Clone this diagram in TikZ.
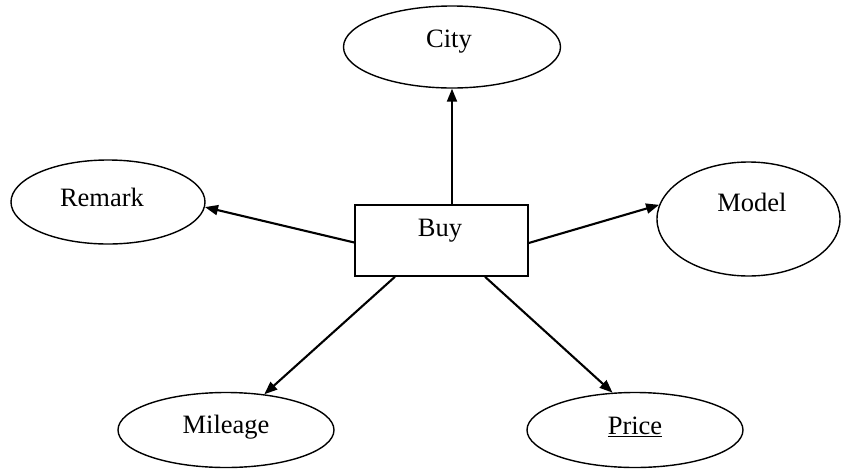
\documentclass[tikz,border=0pt]{standalone}
\usepackage{fontspec}
\setmainfont{Liberation Serif}
\usetikzlibrary{shapes.geometric,arrows.meta}
\begin{document}
\begin{tikzpicture}[x=1pt,y=-1pt,
  attr/.style={ellipse,draw,line width=1.4pt,inner sep=0pt},
  entity/.style={rectangle,draw,line width=1.5pt,inner sep=0pt,minimum width=173pt,minimum height=71pt},
  lbl/.style={font=\fontsize{26.5}{31}\selectfont,inner sep=0pt},
  rel/.style={line width=2.1pt,-{Triangle[length=13pt,width=10pt]}}]
\useasboundingbox (0,0) rectangle (841,469);

% entity
\node[entity] (buy) at (441.5,240.5) {};
\node[lbl] at (440,231) {Buy};

% attributes
\node[attr,minimum width=217pt,minimum height=82pt] (city) at (452,47) {};
\node[lbl] at (449,42) {City};

\node[attr,minimum width=194pt,minimum height=84pt] (remark) at (108,202) {};
\node[lbl] at (102,197) {Remark};

\node[attr,minimum width=183pt,minimum height=114pt] (model) at (748.5,219) {};
\node[lbl] at (752,202) {Model};

\node[attr,minimum width=216pt,minimum height=75pt] (mileage) at (226,430) {};
\node[lbl] at (226,427) {Mileage};

\node[attr,minimum width=216pt,minimum height=75pt] (price) at (635,430) {};
\node[lbl] at (635,427) {\underline{Price}};

% relationships
\draw[rel] ([xshift=10.5pt]buy.north) -- (city.south);
\draw[rel] ([yshift=-2pt]buy.west) -- (remark.-3);
\draw[rel] ([yshift=-2.5pt]buy.east) -- (model.171);
\draw[rel] ([xshift=-46.5pt]buy.south) -- (mileage.43);
\draw[rel] ([xshift=43.5pt]buy.south) -- (price.121);
\end{tikzpicture}
\end{document}
